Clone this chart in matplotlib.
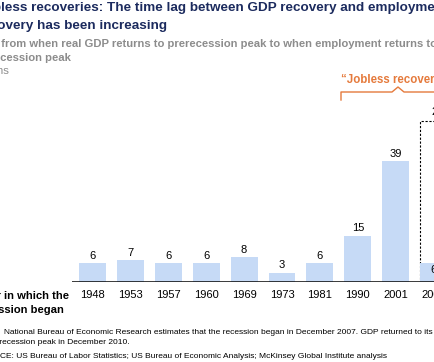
import matplotlib.pyplot as plt
from matplotlib.lines import Line2D

plt.rcParams['font.family'] = ['Liberation Sans', 'DejaVu Sans']

# data
years = ['1948', '1953', '1957', '1960', '1969', '1973', '1981', '1990', '2001', '2007']
months = [6, 7, 6, 6, 8, 3, 6, 15, 39, 6]
projected_2007 = 52
projected_label = '27'

W, H = 434, 362
bar_color = '#c6daf6'
navy = '#1c2b5e'
grey = '#8c8c8c'
orange = '#e57a3c'


def fx(x):
    return x / W


def fy(y):
    return 1 - y / H


fig = plt.figure(figsize=(W / 100, H / 100), dpi=100)

# axes: baseline at y=282px, 3.1 px per month
ax = fig.add_axes([fx(72), fy(282), fx(434 - 72), (282 - 100) / H])
ax.set_xlim(-0.54, 9.01)
ax.set_ylim(0, 182 / 3.1)

xs = list(range(len(years)))
# projected range for the latest recession (dashed box)
ax.bar(xs[-1], projected_2007, width=0.71, fill=False, edgecolor='black',
       linestyle=(0, (2, 1.5)), linewidth=0.8, zorder=1)
ax.bar(xs, months, width=0.71, color=bar_color, zorder=2)

for x, v in zip(xs[:-1], months[:-1]):
    ax.text(x, v + 0.8, str(v), ha='center', va='bottom', fontsize=8, color='black')
ax.text(xs[-1], months[-1] - 0.6, str(months[-1]), ha='center', va='top', fontsize=8, zorder=3)
ax.text(xs[-1] + 0.1, projected_2007 + 1.2, projected_label, ha='center', va='bottom',
        fontsize=8, clip_on=False)

ax.axhline(0, color='black', linewidth=1.8, zorder=3)
for s in ax.spines.values():
    s.set_visible(False)
ax.set_yticks([])
ax.set_xticks(xs)
ax.set_xticklabels(years, fontsize=8)
ax.tick_params(axis='x', length=0, pad=6)

# titles (cut at the left/right edges like the source)
fig.text(fx(-23), fy(8), 'Jobless recoveries: The time lag between GDP recovery and employment',
         fontsize=9.7, fontweight='bold', color=navy, va='center', ha='left')
fig.text(fx(-23), fy(26), 'recovery has been increasing',
         fontsize=9.7, fontweight='bold', color=navy, va='center', ha='left')
fig.text(fx(-28), fy(44), 'Time from when real GDP returns to prerecession peak to when employment returns to',
         fontsize=8.1, fontweight='bold', color=grey, va='center', ha='left')
fig.text(fx(-28), fy(58), 'prerecession peak',
         fontsize=8.1, fontweight='bold', color=grey, va='center', ha='left')
fig.text(fx(-28), fy(71), 'Months',
         fontsize=8.1, color=grey, va='center', ha='left')

# "Jobless recoveries" bracket
fig.text(fx(341), fy(80), '\u201cJobless recoveries\u201d', fontsize=8.3, fontweight='bold',
         color=orange, va='center', ha='left')
fig.add_artist(Line2D([fx(341), fx(341), fx(392), fx(398), fx(404), fx(440)],
                      [fy(100), fy(92), fy(92), fy(87), fy(92), fy(92)],
                      color=orange, linewidth=1.0))

# x-axis caption
fig.text(fx(69), fy(296), 'Year in which the', fontsize=8.1, fontweight='bold',
         ha='right', va='center')
fig.text(fx(64), fy(310), 'recession began', fontsize=8.1, fontweight='bold',
         ha='right', va='center')

# footnotes
fig.text(fx(-24), fy(331), '1', fontsize=4.8, va='center', ha='left')
fig.text(fx(4), fy(332), 'National Bureau of Economic Research estimates that the recession began in December 2007. GDP returned to its',
         fontsize=6.0, va='center', ha='left')
fig.text(fx(-13), fy(343), 'prerecession peak in December 2010.', fontsize=6.0, va='center', ha='left')
fig.text(fx(-24), fy(356), 'SOURCE: US Bureau of Labor Statistics; US Bureau of Economic Analysis; McKinsey Global Institute analysis',
         fontsize=6.0, va='center', ha='left')

fig.savefig('out.png', dpi=100)
